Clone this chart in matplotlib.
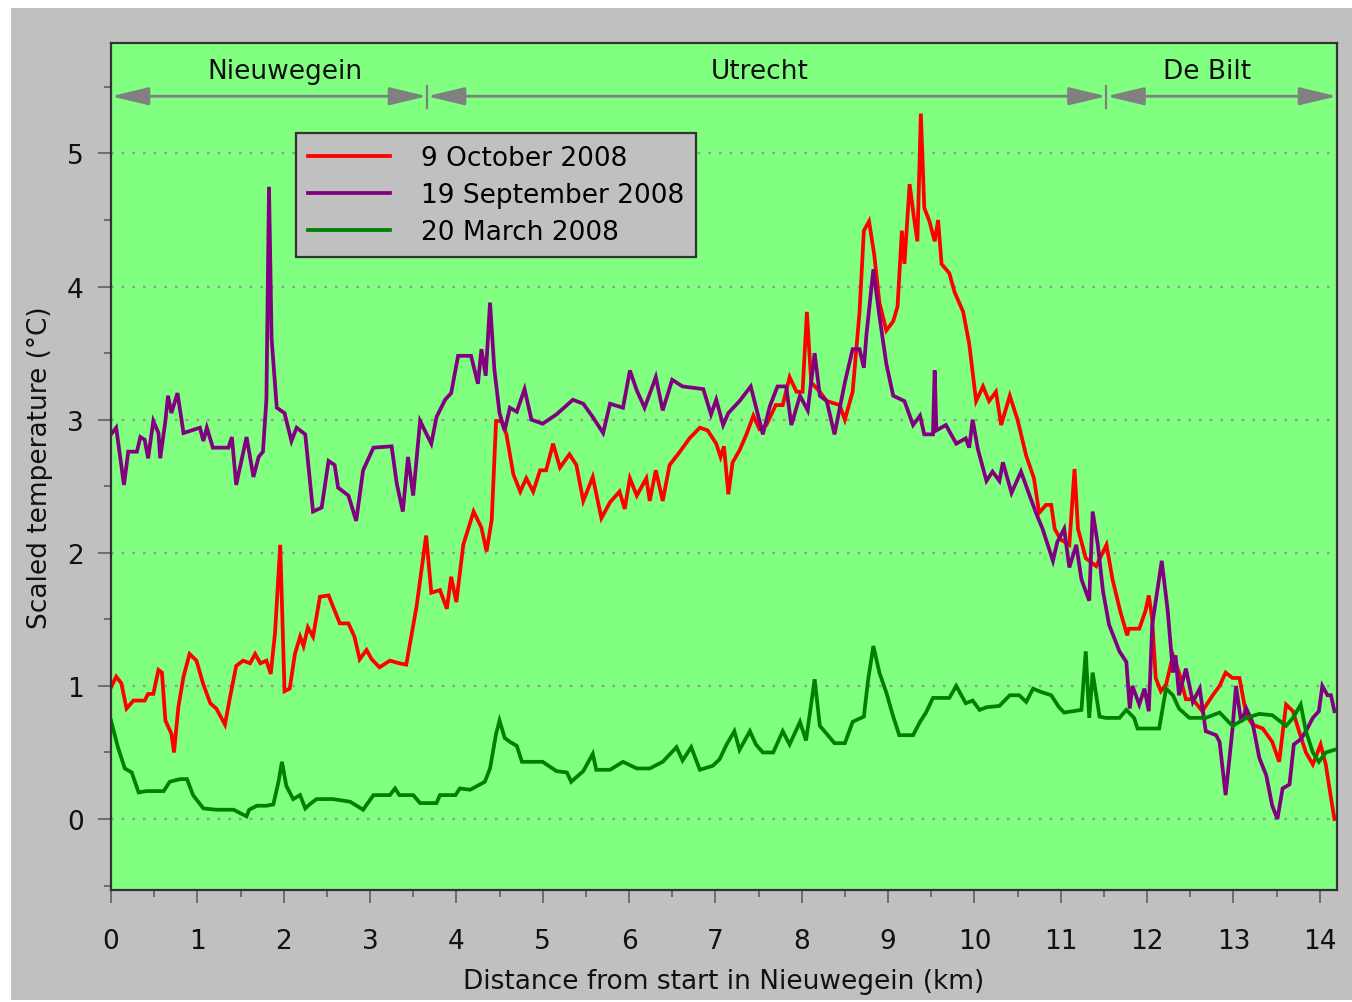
import matplotlib
matplotlib.use("Agg")
import matplotlib.pyplot as plt
from matplotlib.patches import Rectangle
import numpy as np

plt.rcParams['font.family'] = ['DejaVu Sans']

# ---------------- data ----------------
oct_x = [0.00, 0.06, 0.12, 0.18, 0.26, 0.39, 0.43, 0.49, 0.55, 0.59, 0.63, 0.70, 0.73, 0.78, 0.84, 0.91, 0.99,
         1.07, 1.15, 1.22, 1.32, 1.38, 1.45, 1.53, 1.61, 1.67, 1.73, 1.80, 1.85, 1.90, 1.96, 2.01, 2.07, 2.13,
         2.19, 2.23, 2.28, 2.34, 2.42, 2.52, 2.57, 2.65, 2.75, 2.82, 2.88, 2.96, 3.02, 3.11, 3.23, 3.34, 3.42,
         3.54, 3.65, 3.71, 3.81, 3.89, 3.94, 4.00, 4.08, 4.20, 4.29, 4.35, 4.41, 4.46, 4.52, 4.58, 4.66, 4.74,
         4.81, 4.89, 4.97, 5.04, 5.12, 5.20, 5.31, 5.39, 5.47, 5.58, 5.68, 5.78, 5.89, 5.95, 6.01, 6.09, 6.20,
         6.24, 6.31, 6.39, 6.47, 6.59, 6.70, 6.82, 6.91, 7.01, 7.06, 7.10, 7.15, 7.20, 7.28, 7.36, 7.44, 7.51,
         7.59, 7.70, 7.78, 7.86, 7.94, 8.01, 8.06, 8.11, 8.21, 8.29, 8.44, 8.50, 8.59, 8.67, 8.72, 8.78, 8.84,
         8.90, 8.98, 9.06, 9.11, 9.16, 9.19, 9.25, 9.30, 9.34, 9.38, 9.42, 9.48, 9.54, 9.58, 9.62, 9.71, 9.77,
         9.87, 9.94, 10.02, 10.10, 10.17, 10.25, 10.31, 10.41, 10.50, 10.60, 10.69, 10.75, 10.83, 10.89, 10.93,
         11.00, 11.10, 11.16, 11.20, 11.29, 11.41, 11.53, 11.60, 11.69, 11.77, 11.79, 11.91, 11.98, 12.02, 12.06,
         12.10, 12.16, 12.22, 12.30, 12.37, 12.45, 12.53, 12.64, 12.76, 12.84, 12.91, 12.99, 13.07, 13.15, 13.22,
         13.34, 13.45, 13.53, 13.61, 13.69, 13.76, 13.84, 13.92, 14.01, 14.07, 14.13, 14.17]
oct_y = [0.99, 1.07, 1.02, 0.83, 0.89, 0.89, 0.94, 0.94, 1.12, 1.10, 0.74, 0.64, 0.50, 0.84, 1.07, 1.24, 1.19,
         1.01, 0.87, 0.83, 0.71, 0.92, 1.15, 1.19, 1.17, 1.24, 1.17, 1.19, 1.09, 1.40, 2.06, 0.96, 0.98, 1.24,
         1.37, 1.30, 1.44, 1.37, 1.67, 1.68, 1.60, 1.47, 1.47, 1.37, 1.20, 1.27, 1.20, 1.14, 1.19, 1.17, 1.16,
         1.60, 2.13, 1.70, 1.72, 1.58, 1.82, 1.63, 2.06, 2.31, 2.19, 2.01, 2.25, 2.99, 2.99, 2.89, 2.59, 2.46,
         2.56, 2.46, 2.62, 2.62, 2.82, 2.64, 2.74, 2.66, 2.39, 2.57, 2.26, 2.38, 2.46, 2.33, 2.56, 2.43, 2.56,
         2.39, 2.62, 2.39, 2.66, 2.76, 2.86, 2.94, 2.92, 2.82, 2.72, 2.80, 2.44, 2.68, 2.77, 2.89, 3.03, 2.93,
         2.96, 3.11, 3.11, 3.32, 3.21, 3.21, 3.81, 3.28, 3.21, 3.14, 3.11, 3.00, 3.21, 3.81, 4.42, 4.49, 4.24,
         3.88, 3.67, 3.74, 3.85, 4.42, 4.17, 4.77, 4.52, 4.34, 5.30, 4.59, 4.49, 4.34, 4.50, 4.17, 4.10, 3.96,
         3.81, 3.57, 3.14, 3.25, 3.14, 3.21, 2.96, 3.18, 3.00, 2.73, 2.56, 2.30, 2.36, 2.36, 2.18,
         2.10, 2.06, 2.63, 2.18, 1.96, 1.90, 2.06, 1.80, 1.56, 1.38, 1.43, 1.43, 1.56, 1.68, 1.50,
         1.06, 0.96, 1.01, 1.23, 1.10, 0.90, 0.90, 0.81, 0.93, 1.00, 1.10, 1.06, 1.06, 0.78, 0.71,
         0.68, 0.58, 0.43, 0.86, 0.81, 0.66, 0.50, 0.41, 0.56, 0.41, 0.16, 0.00]

sep_x = [0.00, 0.06, 0.15, 0.20, 0.30, 0.34, 0.39, 0.43, 0.49, 0.55, 0.57, 0.63, 0.66, 0.70, 0.77, 0.84, 1.03,
         1.07, 1.11, 1.18, 1.36, 1.40, 1.45, 1.57, 1.65, 1.71, 1.76, 1.80, 1.83, 1.86, 1.92, 2.01, 2.09, 2.15,
         2.25, 2.34, 2.44, 2.52, 2.59, 2.63, 2.75, 2.84, 2.92, 3.04, 3.25, 3.31, 3.38, 3.44, 3.50, 3.58, 3.71,
         3.77, 3.87, 3.94, 4.02, 4.17, 4.25, 4.29, 4.34, 4.39, 4.44, 4.50, 4.56, 4.62, 4.70, 4.79, 4.87, 5.00,
         5.16, 5.35, 5.47, 5.58, 5.70, 5.78, 5.93, 6.01, 6.09, 6.18, 6.26, 6.31, 6.39, 6.50, 6.62, 6.86, 6.95,
         7.01, 7.09, 7.15, 7.28, 7.41, 7.55, 7.63, 7.72, 7.82, 7.88, 7.98, 8.07, 8.15, 8.21, 8.29, 8.38, 8.50,
         8.59, 8.67, 8.72, 8.75, 8.83, 8.90, 8.98, 9.06, 9.19, 9.29, 9.37, 9.42, 9.52, 9.54, 9.56, 9.67, 9.79,
         9.90, 9.94, 9.98, 10.04, 10.14, 10.21, 10.29, 10.33, 10.43, 10.54, 10.64, 10.72, 10.79, 10.91, 10.96,
         11.04, 11.10, 11.18, 11.24, 11.33, 11.37, 11.43, 11.49, 11.56, 11.68, 11.76, 11.80, 11.83, 11.91, 11.97,
         12.02, 12.06, 12.17, 12.24, 12.30, 12.33, 12.37, 12.45, 12.53, 12.61, 12.68, 12.80, 12.84, 12.91, 12.99,
         13.03, 13.09, 13.15, 13.22, 13.30, 13.38, 13.45, 13.51, 13.57, 13.65, 13.70, 13.78, 13.84, 13.92, 13.99,
         14.03, 14.09, 14.13, 14.17]
sep_y = [2.89, 2.94, 2.51, 2.76, 2.76, 2.87, 2.85, 2.71, 2.99, 2.90, 2.71, 2.99, 3.18, 3.05, 3.20, 2.90, 2.94,
         2.84, 2.94, 2.79, 2.79, 2.87, 2.51, 2.87, 2.57, 2.72, 2.76, 3.15, 4.75, 3.61, 3.09, 3.05, 2.84, 2.94,
         2.89, 2.31, 2.34, 2.69, 2.66, 2.49, 2.43, 2.24, 2.62, 2.79, 2.80, 2.52, 2.31, 2.72, 2.43, 2.99, 2.82,
         3.02, 3.15, 3.20, 3.48, 3.48, 3.27, 3.53, 3.33, 3.88, 3.38, 3.05, 2.92, 3.09, 3.06, 3.23, 3.00, 2.97,
         3.04, 3.15, 3.12, 3.02, 2.90, 3.12, 3.09, 3.37, 3.22, 3.09, 3.23, 3.32, 3.07, 3.30, 3.25, 3.23, 3.04,
         3.15, 2.96, 3.05, 3.14, 3.25, 2.89, 3.10, 3.25, 3.25, 2.96, 3.18, 3.07, 3.50, 3.18, 3.14, 2.89, 3.28,
         3.53, 3.53, 3.39, 3.64, 4.13, 3.78, 3.42, 3.18, 3.14, 2.96, 3.03, 2.89, 2.89, 3.37, 2.92, 2.96, 2.82,
         2.86, 2.79, 3.00, 2.78, 2.54, 2.61, 2.54, 2.68, 2.45, 2.61, 2.43, 2.29, 2.18, 1.94, 2.08,
         2.18, 1.89, 2.06, 1.80, 1.64, 2.31, 2.06, 1.71, 1.46, 1.26, 1.18, 0.83, 1.00, 0.86, 0.98,
         0.81, 1.46, 1.94, 1.56, 1.10, 1.23, 0.93, 1.13, 0.88, 0.98, 0.66, 0.63, 0.58, 0.18, 0.68,
         1.00, 0.73, 0.83, 0.73, 0.46, 0.33, 0.10, 0.00, 0.23, 0.26, 0.56, 0.60, 0.66, 0.76, 0.81,
         1.00, 0.93, 0.93, 0.81]

mar_x = [0.00, 0.08, 0.16, 0.24, 0.32, 0.41, 0.51, 0.61, 0.68, 0.80, 0.88, 0.95, 1.07, 1.22, 1.42, 1.57, 1.60,
         1.69, 1.80, 1.88, 1.94, 1.98, 2.03, 2.11, 2.19, 2.25, 2.30, 2.38, 2.57, 2.77, 2.92, 3.04, 3.23, 3.29,
         3.34, 3.50, 3.58, 3.77, 3.81, 3.99, 4.04, 4.16, 4.33, 4.39, 4.46, 4.50, 4.56, 4.62, 4.70, 4.76, 4.85,
         5.00, 5.16, 5.28, 5.33, 5.47, 5.58, 5.62, 5.78, 5.93, 6.09, 6.24, 6.39, 6.55, 6.62, 6.72, 6.82, 6.97,
         7.05, 7.13, 7.22, 7.28, 7.40, 7.47, 7.55, 7.67, 7.78, 7.86, 7.98, 8.05, 8.15, 8.21, 8.29, 8.38, 8.50,
         8.59, 8.72, 8.77, 8.83, 8.90, 8.98, 9.06, 9.13, 9.29, 9.37, 9.44, 9.52, 9.71, 9.79, 9.90, 9.98, 10.06,
         10.14, 10.29, 10.41, 10.52, 10.60, 10.68, 10.75, 10.89, 10.98, 11.04, 11.14, 11.24, 11.29, 11.33, 11.37,
         11.45, 11.52, 11.68, 11.76, 11.85, 11.89, 12.14, 12.22, 12.30, 12.37, 12.49, 12.68, 12.84, 12.99, 13.15,
         13.30, 13.45, 13.61, 13.69, 13.78, 13.84, 13.92, 13.99, 14.07, 14.17]
mar_y = [0.74, 0.54, 0.38, 0.35, 0.20, 0.21, 0.21, 0.21, 0.28, 0.30, 0.30, 0.18, 0.08, 0.07, 0.07, 0.02, 0.07,
         0.10, 0.10, 0.11, 0.28, 0.43, 0.25, 0.15, 0.18, 0.08, 0.11, 0.15, 0.15, 0.13, 0.07, 0.18, 0.18, 0.23,
         0.18, 0.18, 0.12, 0.12, 0.18, 0.18, 0.23, 0.22, 0.28, 0.38, 0.64, 0.74, 0.61, 0.58, 0.55, 0.43, 0.43,
         0.43, 0.36, 0.35, 0.28, 0.36, 0.49, 0.37, 0.37, 0.43, 0.38, 0.38, 0.43, 0.54, 0.44, 0.54, 0.37, 0.40,
         0.45, 0.56, 0.66, 0.52, 0.66, 0.56, 0.50, 0.50, 0.66, 0.56, 0.73, 0.59, 1.05, 0.70, 0.64, 0.57, 0.57,
         0.73, 0.77, 1.05, 1.30, 1.10, 0.95, 0.77, 0.63, 0.63, 0.73, 0.80, 0.91, 0.91, 1.00, 0.87, 0.89, 0.82,
         0.84, 0.85, 0.93, 0.93, 0.88, 0.98, 0.96, 0.93, 0.84, 0.80, 0.81, 0.82, 1.26, 0.76, 1.10,
         0.77, 0.76, 0.76, 0.82, 0.76, 0.68, 0.68, 0.98, 0.93, 0.83, 0.76, 0.76, 0.80, 0.70, 0.76,
         0.79, 0.78, 0.70, 0.76, 0.86, 0.66, 0.50, 0.43, 0.50, 0.52]

series_labels = ["9 October 2008", "19 September 2008", "20 March 2008"]
series_colors = ["#ff0000", "#800080", "#008000"]

regions = ["Nieuwegein", "Utrecht", "De Bilt"]
region_bounds = [0.0, 3.66, 11.53, 14.2]
region_label_x = [2.02, 7.51, 12.70]

x_ticks = list(range(0, 15))
y_ticks = [0, 1, 2, 3, 4, 5]

FS = 19

# ---------------- figure ----------------
W, H = 1352, 1003
fig = plt.figure(figsize=(W / 100, H / 100), dpi=100, facecolor="white")
bg = Rectangle((11 / W, 0.002), 1 - 11 / W, 1 - 9 / H - 0.002,
               transform=fig.transFigure, facecolor="#c0c0c0",
               edgecolor="none", zorder=-10)
fig.patches.append(bg)

ax = fig.add_axes([111 / W, 1 - 891 / H, (1337 - 111) / W, (891 - 44) / H])
ax.set_facecolor("#80ff80")
ax.set_xlim(0, 14.2)
ax.set_ylim(-0.533, 5.83)

for yv in y_ticks:
    ax.axhline(yv, color="#9a9a9a", lw=1.6, ls=(0, (1.2, 3.6)), zorder=1)

for xs, ys, lab, col in zip([oct_x, sep_x, mar_x], [oct_y, sep_y, mar_y],
                            series_labels, series_colors):
    ax.plot(xs, ys, color=col, lw=2.7, label=lab, zorder=3,
            solid_joinstyle="miter")

# region arrows
arrow_y = 5.43
label_y = 5.62
for i, name in enumerate(regions):
    ax.annotate("", xy=(region_bounds[i + 1], arrow_y), xytext=(region_bounds[i], arrow_y),
                arrowprops=dict(arrowstyle="<|-|>,head_length=2.3,head_width=0.55",
                                mutation_scale=10, color="#808080", lw=2.0,
                                shrinkA=0, shrinkB=0), annotation_clip=False, zorder=4)
    ax.text(region_label_x[i], label_y, name, ha="center", va="center",
            fontsize=FS, color="#111111", zorder=4)
for b in region_bounds[1:-1]:
    ax.plot([b, b], [arrow_y - 0.09, arrow_y + 0.08], color="#808080", lw=1.6, zorder=4)

# axes styling
for sp in ax.spines.values():
    sp.set_color("#333333")
    sp.set_linewidth(1.6)
    sp.set_zorder(6)

ax.set_xticks(x_ticks)
ax.set_xticklabels([str(v) for v in x_ticks])
ax.set_xticks(np.arange(0.5, 14.2, 1.0), minor=True)
ax.set_yticks(y_ticks)
ax.set_yticklabels([str(v) for v in y_ticks])
ax.set_yticks(np.arange(-0.5, 5.8, 1.0), minor=True)
ax.tick_params(axis="both", which="major", direction="out", length=9.5, width=1.1,
               color="#555555", labelsize=FS, labelcolor="#111111")
ax.tick_params(axis="both", which="minor", direction="out", length=5, width=1.1,
               color="#555555")
ax.tick_params(axis="x", which="major", pad=18)
ax.tick_params(axis="y", which="major", pad=10)

ax.set_xlabel("Distance from start in Nieuwegein (km)", fontsize=FS, color="#111111", labelpad=10)
ax.set_ylabel("Scaled temperature (\u00b0C)", fontsize=FS, color="#111111", labelpad=10)

leg = ax.legend(loc="upper left", bbox_to_anchor=((296 - 111) / (1337 - 111), (891 - 134) / (891 - 44)),
                fontsize=FS, frameon=True, fancybox=False, framealpha=1,
                facecolor="#c0c0c0", edgecolor="#333333", handlelength=3.1,
                handletextpad=1.2, labelspacing=0.42, borderpad=0.45, borderaxespad=0)
leg.get_frame().set_linewidth(1.6)
leg.set_zorder(7)

fig.savefig("out.png", dpi=100, facecolor=fig.get_facecolor())
